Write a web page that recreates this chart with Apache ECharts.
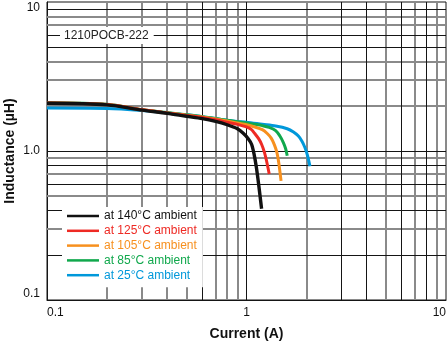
<!DOCTYPE html>
<html>
<head>
<meta charset="utf-8">
<script src="https://cdn.jsdelivr.net/npm/echarts@6/dist/echarts.min.js"></script>
<style>
html,body{margin:0;padding:0;background:#fff;}
#chart{width:448px;height:342px;}
</style>
</head>
<body>
<div id="chart"></div>
<script>
// ---- data ----
var seriesNames = ['at 140°C ambient', 'at 125°C ambient', 'at 105°C ambient', 'at 85°C ambient', 'at 25°C ambient'];
var seriesColors = ['#111111', '#ee2a24', '#f7901e', '#10a84c', '#0098da'];

var cur140 = [0.1, 0.2, 0.3, 0.4, 0.5, 0.6, 0.7, 0.8, 0.9, 0.96, 1.02, 1.06, 1.09, 1.12, 1.15, 1.19];
var ind140 = [2.09, 2.04, 1.88, 1.79, 1.71, 1.65, 1.58, 1.50, 1.41, 1.32, 1.21, 1.11, 0.96, 0.78, 0.60, 0.41];

var cur125 = [0.1, 0.2, 0.3, 0.4, 0.5, 0.6, 0.7, 0.8, 0.9, 1.0, 1.06, 1.10, 1.15, 1.19, 1.23, 1.26, 1.30];
var ind125 = [2.10, 2.05, 1.89, 1.80, 1.73, 1.68, 1.62, 1.56, 1.51, 1.45, 1.39, 1.31, 1.21, 1.11, 0.98, 0.86, 0.70];

var cur105 = [0.1, 0.2, 0.3, 0.4, 0.5, 0.6, 0.7, 0.8, 0.9, 1.0, 1.1, 1.2, 1.27, 1.33, 1.38, 1.42, 1.45, 1.49];
var ind105 = [2.10, 2.05, 1.89, 1.80, 1.74, 1.69, 1.64, 1.59, 1.54, 1.50, 1.45, 1.39, 1.31, 1.22, 1.10, 0.98, 0.84, 0.63];

var cur85 = [0.1, 0.2, 0.3, 0.4, 0.5, 0.6, 0.7, 0.8, 0.9, 1.0, 1.1, 1.2, 1.3, 1.4, 1.47, 1.53, 1.57, 1.60];
var ind85 = [2.11, 2.06, 1.89, 1.81, 1.75, 1.70, 1.65, 1.61, 1.57, 1.54, 1.51, 1.48, 1.44, 1.37, 1.26, 1.14, 1.04, 0.93];

var cur25 = [0.1, 0.2, 0.3, 0.4, 0.5, 0.6, 0.7, 0.8, 0.9, 1.0, 1.2, 1.4, 1.6, 1.72, 1.82, 1.9, 1.96, 2.0, 2.04, 2.08];
var ind25 = [1.94, 1.93, 1.87, 1.80, 1.75, 1.70, 1.65, 1.61, 1.58, 1.56, 1.51, 1.47, 1.41, 1.34, 1.26, 1.16, 1.06, 0.98, 0.89, 0.79];

var xTickValues = [0.1, 1, 10];
var xTickLabels = ['0.1', '1', '10'];
var yTickValues = [0.1, 1, 10];
var yTickLabels = ['0.1', '1.0', '10'];

// grid lines (values), split into dark and light groups
var gridXDark = [0.6, 1, 3, 4, 6, 8];
var gridXLight = [0.2, 0.3, 0.4, 0.5, 0.7, 0.8, 0.9, 2, 5, 7, 9];
var gridYDark = [9, 6, 5, 1, 0.8, 0.6, 0.4, 0.2];
var gridYLight = [8, 7, 4, 3, 2, 0.9, 0.7, 0.5, 0.3];

var titleText = '1210POCB-222';
var xName = 'Current (A)';
var yName = 'Inductance (µH)';

// ---- build ----
var FONT = '"Liberation Sans", Arial, Helvetica, sans-serif';
function pairs(xs, ys) { return xs.map(function (x, i) { return [x, ys[i]]; }); }
var allCur = [cur140, cur125, cur105, cur85, cur25];
var allInd = [ind140, ind125, ind105, ind85, ind25];

function labelFor(values, labels) {
  return function (v) {
    for (var i = 0; i < values.length; i++) {
      if (Math.abs(Math.log10(v) - Math.log10(values[i])) < 1e-6) return labels[i];
    }
    return '';
  };
}

var darkStyle = { color: '#151515', width: 1, type: 'solid' };
var lightStyle = { color: '#8a8a8a', width: 2, type: 'solid' };
var markData = [];
gridXLight.forEach(function (v) { markData.push({ xAxis: v, lineStyle: lightStyle }); });
gridYLight.forEach(function (v) { markData.push({ yAxis: v, lineStyle: lightStyle }); });
gridXDark.forEach(function (v) { markData.push({ xAxis: v, lineStyle: darkStyle }); });
gridYDark.forEach(function (v) { markData.push({ yAxis: v, lineStyle: darkStyle }); });

var series = [{
  name: '_grid', type: 'line', data: [], z: 1, silent: true,
  markLine: { z: 1, silent: true, symbol: ['none', 'none'], label: { show: false }, animation: false, data: markData }
}];
for (var k = allCur.length - 1; k >= 0; k--) {
  series.push({
    name: seriesNames[k], type: 'line', data: pairs(allCur[k], allInd[k]),
    showSymbol: false, smooth: 0.3, z: 2,
    lineStyle: { color: seriesColors[k], width: k === 0 ? 3.4 : 3 }, itemStyle: { color: seriesColors[k] }
  });
}

var chart = echarts.init(document.getElementById('chart'), null, { renderer: 'canvas' });
chart.setOption({
  animation: false,
  backgroundColor: '#fff',
  textStyle: { fontFamily: FONT },
  title: {
    text: titleText, left: 60, top: 27, padding: [3, 5, 2, 4], backgroundColor: '#fff', z: 10,
    textStyle: { fontSize: 12, fontWeight: 'normal', color: '#222', fontFamily: FONT, lineHeight: 12 }
  },
  legend: {
    orient: 'vertical', left: 62, top: 207, padding: [3, 6, 6, 5], backgroundColor: '#fff', z: 10,
    icon: 'rect', itemWidth: 32, itemHeight: 2.5, itemGap: 2.8,
    textStyle: { fontSize: 12, fontFamily: FONT, lineHeight: 12 },
    data: seriesNames.map(function (n, i) { return { name: n, textStyle: { color: seriesColors[i] } }; })
  },
  grid: { left: 47, right: 2, top: 2, bottom: 42, show: true, borderColor: '#151515', borderWidth: 1,
    containLabel: false, outerBoundsMode: 'none' },
  xAxis: {
    type: 'log', logBase: 10, min: 0.1, max: 10,
    name: xName, nameLocation: 'middle', nameGap: 27, nameMoveOverlap: false,
    nameTextStyle: { fontSize: 14, fontWeight: 'bold', color: '#111', fontFamily: FONT },
    axisLine: { show: true, lineStyle: { color: '#151515', width: 1 } },
    axisTick: { show: false }, splitLine: { show: false },
    axisLabel: { fontSize: 12, color: '#111', margin: 7, fontFamily: FONT,
      alignMinLabel: 'left', alignMaxLabel: 'right', formatter: labelFor(xTickValues, xTickLabels) }
  },
  yAxis: {
    type: 'log', logBase: 10, min: 0.1, max: 10,
    name: yName, nameLocation: 'middle', nameGap: 30, nameMoveOverlap: false,
    nameTextStyle: { fontSize: 14, fontWeight: 'bold', color: '#111', fontFamily: FONT },
    axisLine: { show: true, lineStyle: { color: '#151515', width: 1 } },
    axisTick: { show: false }, splitLine: { show: false },
    axisLabel: { fontSize: 12, color: '#111', margin: 7, fontFamily: FONT,
      verticalAlignMinLabel: 'bottom', verticalAlignMaxLabel: 'top', formatter: labelFor(yTickValues, yTickLabels) }
  },
  series: series
});
</script>
</body>
</html>
